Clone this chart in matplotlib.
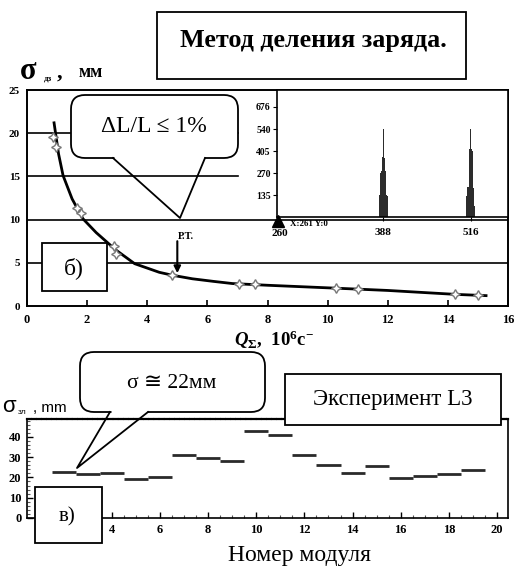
import matplotlib
matplotlib.use("Agg")
import matplotlib.pyplot as plt
from matplotlib.patches import FancyBboxPatch, Rectangle

plt.rcParams['mathtext.fontset'] = 'custom'
plt.rcParams['mathtext.rm'] = 'Liberation Serif:bold'
plt.rcParams['mathtext.it'] = 'Liberation Serif:italic:bold'
plt.rcParams['mathtext.bf'] = 'Liberation Serif:bold'

W, H = 514, 575
SERIF = ['Liberation Serif', 'DejaVu Serif', 'DejaVu Sans']
SANS = ['Liberation Sans', 'DejaVu Sans']

# ---------------- data ----------------
curve_q = [0.90, 0.95, 1.05, 1.20, 1.50, 1.86, 2.30, 2.95, 3.58, 4.40, 4.85, 5.50,
           6.20, 6.83, 8.00, 10.36, 12.00, 14.23, 15.27]
curve_sigma = [21.2, 20.0, 17.6, 15.1, 12.4, 10.1, 8.5, 6.5, 4.9, 3.9, 3.55, 3.15,
               2.85, 2.6, 2.4, 2.05, 1.8, 1.35, 1.2]
meas_q = [0.88, 0.98, 1.67, 1.79, 2.91, 2.97, 4.81, 7.05, 7.60, 10.27, 11.00, 14.23, 15.00]
meas_sigma = [19.6, 18.4, 11.3, 10.75, 6.9, 6.0, 3.6, 2.5, 2.5, 2.05, 2.0, 1.35, 1.3]
top_xticks = [0, 2, 4, 6, 8, 10, 12, 14, 16]
top_yticks = [0, 5, 10, 15, 20, 25]
grid_levels = [20, 15, 10, 5]
rt_q = 5.0

inset_ch1 = [382, 383, 384, 385, 386, 387, 388, 389, 390, 391, 392, 393, 394]
inset_cnt1 = [130, 135, 270, 280, 360, 370, 540, 375, 365, 280, 270, 135, 130]
inset_ch2 = [509, 510, 511, 512, 513, 514, 515, 516, 517, 518, 519, 520, 521, 522]
inset_cnt2 = [130, 180, 185, 185, 410, 420, 540, 530, 420, 405, 185, 180, 65, 60]
inset_yticks = [135, 270, 405, 540, 676]
inset_xticks = [388, 516]

modules = [2, 3, 4, 5, 6, 7, 8, 9, 10, 11, 12, 13, 14, 15, 16, 17, 18, 19]
module_sigma = [22.5, 21.5, 22.2, 19.0, 20.0, 31.2, 29.6, 28.2, 43.0, 40.9, 30.9,
                25.9, 22.2, 25.4, 19.5, 20.6, 21.8, 23.7]
bot_xticks = [2, 4, 6, 8, 10, 12, 14, 16, 18, 20]
bot_xticklabels = ['', '4', '6', '8', '10', '12', '14', '16', '18', '20']  # "2" hidden by the box
bot_yticks = [0, 10, 20, 30, 40]

# ---------------- figure ----------------
fig = plt.figure(figsize=(W / 100, H / 100), dpi=100)


def rect(l, t, r, b):
    return [l / W, 1 - b / H, (r - l) / W, (b - t) / H]


# ---- top main axes ----
ax1 = fig.add_axes(rect(27, 90, 508, 306))
ax1.set_xlim(0, 16)
ax1.set_ylim(0, 25)
for lv in grid_levels:
    xm = 1.0 if lv <= 10 else (238 - 27) / 481
    ax1.axhline(lv, xmin=0, xmax=xm, color='black', lw=1.2, zorder=1)
ax1.plot(curve_q, curve_sigma, color='black', lw=2.0, zorder=3)
ax1.plot(meas_q, meas_sigma, linestyle='none', marker=(4, 1, 0), ms=7,
         mfc='white', mec='#777777', mew=1.0, zorder=4)
ax1.annotate('', xy=(rt_q, 3.8), xytext=(rt_q, 7.5),
             arrowprops=dict(arrowstyle='-|>', color='black', lw=1.5,
                             mutation_scale=10, shrinkA=0, shrinkB=0), zorder=5)
ax1.text(rt_q + 0.3, 8.1, 'Р.Т.', fontsize=7.5, fontweight='bold', family=SERIF,
         ha='center', va='center')
ax1.set_xticks(top_xticks)
ax1.set_yticks(top_yticks)
ax1.tick_params(axis='x', direction='in', length=4, width=1.2, pad=6, labelsize=9)
ax1.tick_params(axis='y', length=0, pad=5, labelsize=8)
for lab in ax1.get_xticklabels() + ax1.get_yticklabels():
    lab.set_fontweight('bold')
    lab.set_family(SERIF)
for s in ax1.spines.values():
    s.set_linewidth(1.4)

# ---- inset ----
ax2 = fig.add_axes(rect(277, 90, 508, 217))
ax2.set_xlim(233, 570)
ax2.set_ylim(0, 780)
ax2.bar(inset_ch1, inset_cnt1, width=1.0, color='#2c2c2c', linewidth=0)
ax2.bar(inset_ch2, inset_cnt2, width=1.0, color='#2c2c2c', linewidth=0)
ax2.set_yticks(inset_yticks)
ax2.set_xticks(inset_xticks)
ax2.tick_params(axis='y', direction='out', length=3, pad=1.5, labelsize=7)
ax2.tick_params(axis='x', direction='out', length=3, pad=5, labelsize=8)
for lab in ax2.get_xticklabels() + ax2.get_yticklabels():
    lab.set_fontweight('bold')
    lab.set_family(SERIF)
for s in ax2.spines.values():
    s.set_linewidth(1.2)

# ---- bottom axes ----
ax3 = fig.add_axes(rect(27, 419, 508, 518))
ax3.set_xlim(0.47, 20.46)
ax3.set_ylim(0, 48.8)
ax3.hlines(module_sigma, [m - 0.5 for m in modules], [m + 0.5 for m in modules],
           color='#2a2a2a', lw=2.0)
ax3.set_xticks(bot_xticks)
ax3.set_xticklabels(bot_xticklabels)
ax3.set_yticks(bot_yticks)
ax3.set_xticks([v / 2 for v in range(2, 41)], minor=True)
ax3.set_yticks(list(range(0, 49, 2)), minor=True)
ax3.tick_params(which='major', direction='in', length=4, width=1, pad=4, labelsize=9)
ax3.tick_params(which='minor', direction='in', length=2, width=0.8, color='#555555')
for lab in ax3.get_xticklabels() + ax3.get_yticklabels():
    lab.set_fontweight('bold')
    lab.set_family(SERIF)
for s in ax3.spines.values():
    s.set_linewidth(1.2)
ax3.spines['top'].set_linestyle((0, (1.5, 0.8)))
ax3.spines['top'].set_linewidth(1.6)

# ---- overlay for boxes / balloons / texts ----
ov = fig.add_axes([0, 0, 1, 1], zorder=10)
ov.set_xlim(0, W)
ov.set_ylim(H, 0)
ov.axis('off')
ov.patch.set_alpha(0)


def box(l, t, r, b, lw=1.3):
    ov.add_patch(Rectangle((l, t), r - l, b - t, fc='white', ec='black', lw=lw, zorder=2))


def balloon(l, t, r, b, tl, tr, tip, rad=14):
    ov.add_patch(FancyBboxPatch((l, t), r - l, b - t,
                                boxstyle=f"round,pad=0,rounding_size={rad}",
                                fc='white', ec='black', lw=1.3, zorder=2))
    ov.plot([tl + 1, tr - 1], [b, b], color='white', lw=2.5, zorder=3,
            solid_capstyle='butt')
    ov.plot([tl, tip[0], tr], [b, tip[1], b], color='black', lw=1.3, zorder=4)


# title box
box(157, 12, 466, 79)
ov.text(313, 47, 'Метод деления заряда.', fontsize=18.8, fontweight='bold', family=SERIF,
        ha='center', va='baseline', zorder=5)

# top y label
ov.text(20, 79, 'σ', fontsize=22, fontweight='bold', family=SERIF, ha='left',
        va='baseline', zorder=5)
ov.text(44, 81, 'дз', fontsize=6.5, fontweight='bold', family=SERIF, ha='left',
        va='baseline', zorder=5)
ov.text(57, 78, ',', fontsize=16, fontweight='bold', family=SERIF, ha='left',
        va='baseline', zorder=5)
ov.text(79, 77, 'мм', fontsize=13, fontweight='bold', family=SERIF, ha='left',
        va='baseline', zorder=5)

# ΔL/L balloon
balloon(71, 95, 238, 158, 113, 205, (180, 218))
ov.text(154, 127, 'ΔL/L ≤ 1%', fontsize=17, family=SERIF, ha='center', va='center',
        zorder=5)

# б) box
box(42, 243, 107, 291)
ov.text(74, 268, 'б)', fontsize=17, family=SERIF, ha='center', va='center', zorder=5)

# inset cursor
ov.plot([278], [221], marker='^', ms=8, color='black', zorder=5)
ov.text(280, 234, '260', fontsize=8, fontweight='bold', family=SERIF, ha='center',
        va='center', zorder=5)
ov.text(290, 224, 'X:261 Y:0', fontsize=6.5, fontweight='bold', family=SERIF,
        ha='left', va='center', zorder=5)

# top x label
ov.text(234, 346, r'$Q_{\Sigma}$,  $10^{6}$c$^{-}$', fontsize=13.5, fontweight='bold',
        family=SERIF, ha='left', va='baseline', zorder=5)

# σ balloon
balloon(80, 352, 265, 412, 110, 148, (77, 468))
ov.text(172, 383, 'σ ≅ 22мм', fontsize=15.5, family=SERIF, ha='center', va='center',
        zorder=5)

# Эксперимент L3 box
box(285, 374, 501, 425)
ov.text(393, 400, 'Эксперимент L3', fontsize=16.5, family=SERIF, ha='center',
        va='center', zorder=5)

# bottom y label
ov.text(2, 412, 'σ', fontsize=16, family=SANS, ha='left', va='baseline', zorder=5)
ov.text(18, 414, 'зл', fontsize=6, family=SANS, ha='left', va='baseline', zorder=5)
ov.text(33, 412, ', mm', fontsize=11, family=SANS, ha='left', va='baseline', zorder=5)

# в) box
box(35, 487, 102, 543)
ov.text(67, 517, 'в)', fontsize=15, family=SERIF, ha='center', va='center', zorder=5)

# bottom x label
ov.text(300, 556, 'Номер модуля', fontsize=17, family=SERIF, ha='center', va='center',
        zorder=5)

fig.savefig('out.png', dpi=100)
